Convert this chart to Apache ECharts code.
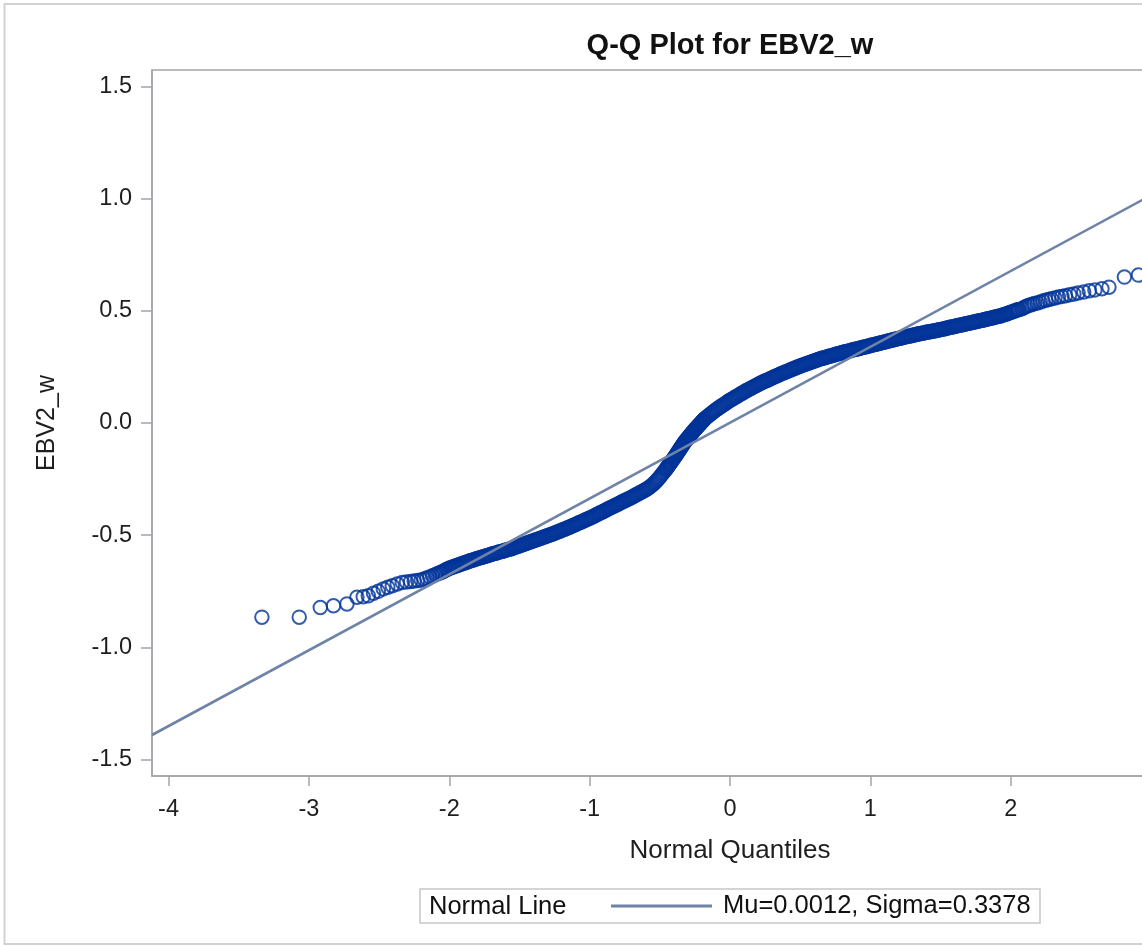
<!DOCTYPE html>
<html>
<head>
<meta charset="utf-8">
<title>Q-Q Plot for EBV2_w</title>
<script src="https://cdn.jsdelivr.net/npm/echarts@6/dist/echarts.min.js"></script>
<style>
  html, body { margin: 0; padding: 0; background: #ffffff; }
  #chart { width: 1142px; height: 946px; }
</style>
</head>
<body>
<div id="chart"></div>
<script>
// Normal-line parameters shown in the legend
const mu = 0.0012;
const sigma = 0.3378;

// Axis ticks
const xTicks = [-4, -3, -2, -1, 0, 1, 2, 3, 4];
const yTicks = [-1.5, -1.0, -0.5, 0.0, 0.5, 1.0, 1.5];

// Sorted EBV2_w observations against their normal quantiles: [quantile, value]
const leftTail = [
  [-3.335,-0.865],[-3.069,-0.865],[-2.919,-0.822],[-2.825,-0.814],[-2.729,-0.806],[-2.658,-0.776],
  [-2.613,-0.774],[-2.577,-0.770],[-2.540,-0.758],[-2.506,-0.750],[-2.470,-0.739],[-2.438,-0.732],
  [-2.406,-0.725],[-2.371,-0.717],[-2.335,-0.710],[-2.305,-0.708],[-2.275,-0.706],[-2.250,-0.704],
  [-2.225,-0.702],[-2.200,-0.699],[-2.180,-0.695],[-2.160,-0.691],[-2.140,-0.686],[-2.120,-0.681],
  [-2.100,-0.676],[-2.085,-0.672],[-2.070,-0.668]
];

const coreLower = [
  [-2.06,-0.666],[-2.05,-0.663],[-2.04,-0.660],[-2.03,-0.656],[-2.02,-0.653],[-2.01,-0.650],[-2.00,-0.647],
  [-1.99,-0.645],[-1.98,-0.643],[-1.97,-0.640],[-1.96,-0.638],[-1.95,-0.636],[-1.94,-0.634],[-1.93,-0.632],[-1.92,-0.629],[-1.91,-0.627],[-1.90,-0.625],
  [-1.89,-0.623],[-1.88,-0.621],[-1.87,-0.618],[-1.86,-0.616],[-1.85,-0.614],[-1.84,-0.612],[-1.83,-0.610],[-1.82,-0.608],[-1.81,-0.606],[-1.80,-0.604],
  [-1.79,-0.602],[-1.78,-0.600],[-1.77,-0.598],[-1.76,-0.597],[-1.75,-0.595],[-1.74,-0.593],[-1.73,-0.591],[-1.72,-0.589],[-1.71,-0.587],[-1.70,-0.585],
  [-1.69,-0.583],[-1.68,-0.581],[-1.67,-0.580],[-1.66,-0.578],[-1.65,-0.576],[-1.64,-0.574],[-1.63,-0.572],[-1.62,-0.571],[-1.61,-0.569],[-1.60,-0.567],
  [-1.59,-0.565],[-1.58,-0.563],[-1.57,-0.562],[-1.56,-0.560],[-1.55,-0.558],[-1.54,-0.556],[-1.53,-0.553],[-1.52,-0.551],[-1.51,-0.549],[-1.50,-0.547],
  [-1.49,-0.545],[-1.48,-0.542],[-1.47,-0.540],[-1.46,-0.538],[-1.45,-0.536],[-1.44,-0.534],[-1.43,-0.531],[-1.42,-0.529],[-1.41,-0.527],[-1.40,-0.525],
  [-1.39,-0.522],[-1.38,-0.520],[-1.37,-0.518],[-1.36,-0.516],[-1.35,-0.514],[-1.34,-0.511],[-1.33,-0.509],[-1.32,-0.507],[-1.31,-0.505],[-1.30,-0.502],
  [-1.29,-0.500],[-1.28,-0.498],[-1.27,-0.496],[-1.26,-0.493],[-1.25,-0.491],[-1.24,-0.488],[-1.23,-0.486],[-1.22,-0.483],[-1.21,-0.481],[-1.20,-0.478],
  [-1.19,-0.476],[-1.18,-0.473],[-1.17,-0.471],[-1.16,-0.468],[-1.15,-0.466],[-1.14,-0.463],[-1.13,-0.460],[-1.12,-0.457],[-1.11,-0.455],[-1.10,-0.452],
  [-1.09,-0.449],[-1.08,-0.446],[-1.07,-0.443],[-1.06,-0.441],[-1.05,-0.438],[-1.04,-0.435],[-1.03,-0.432],[-1.02,-0.429],[-1.01,-0.427],[-1.00,-0.424],
  [-0.99,-0.421],[-0.98,-0.418],[-0.97,-0.415],[-0.96,-0.412],[-0.95,-0.408],[-0.94,-0.405],[-0.93,-0.402],[-0.92,-0.399],[-0.91,-0.396],[-0.90,-0.393],
  [-0.89,-0.390],[-0.88,-0.386],[-0.87,-0.383],[-0.86,-0.380],[-0.85,-0.377],[-0.84,-0.374],[-0.83,-0.371],[-0.82,-0.368],[-0.81,-0.365],[-0.80,-0.362],
  [-0.79,-0.359],[-0.78,-0.355],[-0.77,-0.352],[-0.76,-0.349],[-0.75,-0.346],[-0.74,-0.343],[-0.73,-0.340],[-0.72,-0.337],[-0.71,-0.334],[-0.70,-0.331],
  [-0.69,-0.327],[-0.68,-0.324],[-0.67,-0.320],[-0.66,-0.317],[-0.65,-0.314],[-0.64,-0.310],[-0.63,-0.307],[-0.62,-0.304],[-0.61,-0.300],[-0.60,-0.297],
  [-0.59,-0.293],[-0.58,-0.289],[-0.57,-0.284],[-0.56,-0.279],[-0.55,-0.274],[-0.54,-0.268],[-0.53,-0.262],[-0.52,-0.255],[-0.51,-0.248],[-0.50,-0.241],
  [-0.49,-0.233],[-0.48,-0.225],[-0.47,-0.217],[-0.46,-0.209]
];

const coreSteep = [
  [-0.455,-0.205],[-0.45,-0.200],[-0.445,-0.196],[-0.44,-0.192],[-0.435,-0.187],[-0.43,-0.183],[-0.425,-0.178],[-0.42,-0.174],[-0.415,-0.170],[-0.41,-0.165],
  [-0.405,-0.161],[-0.40,-0.157],[-0.395,-0.152],[-0.39,-0.148],[-0.385,-0.143],[-0.38,-0.139],[-0.375,-0.134],[-0.37,-0.129],[-0.365,-0.124],[-0.36,-0.120],
  [-0.355,-0.115],[-0.35,-0.110],[-0.345,-0.105],[-0.34,-0.101],[-0.335,-0.096],[-0.33,-0.091],[-0.325,-0.087],[-0.32,-0.082],[-0.315,-0.078],[-0.31,-0.074],
  [-0.305,-0.071],[-0.30,-0.067],[-0.295,-0.063],[-0.29,-0.059],[-0.285,-0.055],[-0.28,-0.052],[-0.275,-0.048],[-0.27,-0.044],[-0.265,-0.040],[-0.26,-0.036],
  [-0.255,-0.033],[-0.25,-0.029],[-0.245,-0.026],[-0.24,-0.022],[-0.235,-0.019],[-0.23,-0.015],[-0.225,-0.012],[-0.22,-0.008],[-0.215,-0.005],[-0.21,-0.002],
  [-0.205,0.002],[-0.20,0.005],[-0.195,0.009],[-0.19,0.012],[-0.185,0.016],[-0.18,0.019]
];

const coreUpper = [
  [-0.17,0.024],[-0.16,0.029],[-0.15,0.034],[-0.14,0.039],[-0.13,0.044],[-0.12,0.049],[-0.11,0.054],[-0.10,0.059],
  [-0.09,0.063],[-0.08,0.067],[-0.07,0.072],[-0.06,0.076],[-0.05,0.080],[-0.04,0.084],[-0.03,0.088],[-0.02,0.093],[-0.01,0.097],[0.00,0.101],
  [0.01,0.105],[0.02,0.108],[0.03,0.112],[0.04,0.116],[0.05,0.119],[0.06,0.123],[0.07,0.127],[0.08,0.131],[0.09,0.134],[0.10,0.138],
  [0.11,0.142],[0.12,0.145],[0.13,0.148],[0.14,0.152],[0.15,0.155],[0.16,0.158],[0.17,0.162],[0.18,0.165],[0.19,0.168],[0.20,0.171],
  [0.21,0.175],[0.22,0.178],[0.23,0.181],[0.24,0.184],[0.25,0.187],[0.26,0.189],[0.27,0.192],[0.28,0.195],[0.29,0.198],[0.30,0.201],
  [0.31,0.204],[0.32,0.207],[0.33,0.209],[0.34,0.212],[0.35,0.215],[0.36,0.218],[0.37,0.221],[0.38,0.223],[0.39,0.226],[0.40,0.228],
  [0.41,0.231],[0.42,0.233],[0.43,0.236],[0.44,0.239],[0.45,0.241],[0.46,0.244],[0.47,0.246],[0.48,0.249],[0.49,0.251],[0.50,0.254],
  [0.51,0.256],[0.52,0.258],[0.53,0.261],[0.54,0.263],[0.55,0.265],[0.56,0.267],[0.57,0.269],[0.58,0.272],[0.59,0.274],[0.60,0.276],
  [0.61,0.278],[0.62,0.281],[0.63,0.283],[0.64,0.285],[0.65,0.287],[0.66,0.289],[0.67,0.290],[0.68,0.292],[0.69,0.294],[0.70,0.296],
  [0.71,0.298],[0.72,0.299],[0.73,0.301],[0.74,0.303],[0.75,0.305],[0.76,0.307],[0.77,0.308],[0.78,0.310],[0.79,0.312],[0.80,0.314],
  [0.81,0.315],[0.82,0.317],[0.83,0.318],[0.84,0.320],[0.85,0.321],[0.86,0.323],[0.87,0.325],[0.88,0.326],[0.89,0.328],[0.90,0.329],
  [0.91,0.331],[0.92,0.332],[0.93,0.334],[0.94,0.336],[0.95,0.337],[0.96,0.339],[0.97,0.340],[0.98,0.342],[0.99,0.343],[1.00,0.345],
  [1.01,0.347],[1.02,0.348],[1.03,0.350],[1.04,0.351],[1.05,0.353],[1.06,0.354],[1.07,0.356],[1.08,0.358],[1.09,0.359],[1.10,0.361],
  [1.11,0.362],[1.12,0.364],[1.13,0.365],[1.14,0.367],[1.15,0.369],[1.16,0.370],[1.17,0.372],[1.18,0.373],[1.19,0.375],[1.20,0.376],
  [1.21,0.378],[1.22,0.379],[1.23,0.381],[1.24,0.382],[1.25,0.384],[1.26,0.385],[1.27,0.386],[1.28,0.388],[1.29,0.389],[1.30,0.391],
  [1.31,0.392],[1.32,0.393],[1.33,0.395],[1.34,0.396],[1.35,0.398],[1.36,0.399],[1.37,0.400],[1.38,0.401],[1.39,0.403],[1.40,0.404],
  [1.41,0.405],[1.42,0.406],[1.43,0.407],[1.44,0.409],[1.45,0.410],[1.46,0.411],[1.47,0.412],[1.48,0.413],[1.49,0.415],[1.50,0.416],
  [1.51,0.417],[1.52,0.419],[1.53,0.420],[1.54,0.422],[1.55,0.423],[1.56,0.425],[1.57,0.426],[1.58,0.428],[1.59,0.429],[1.60,0.430],
  [1.61,0.432],[1.62,0.433],[1.63,0.435],[1.64,0.436],[1.65,0.437],[1.66,0.439],[1.67,0.440],[1.68,0.442],[1.69,0.443],[1.70,0.444],
  [1.71,0.446],[1.72,0.447],[1.73,0.449],[1.74,0.450],[1.75,0.451],[1.76,0.453],[1.77,0.454],[1.78,0.456],[1.79,0.457],[1.80,0.458],
  [1.81,0.460],[1.82,0.461],[1.83,0.463],[1.84,0.464],[1.85,0.466],[1.86,0.467],[1.87,0.469],[1.88,0.470],[1.89,0.472],[1.90,0.473],
  [1.91,0.475],[1.92,0.476],[1.93,0.478],[1.94,0.480],[1.95,0.482],[1.96,0.484],[1.97,0.486],[1.98,0.488],[1.99,0.491],[2.00,0.493],
  [2.01,0.495],[2.02,0.497],[2.03,0.500],[2.04,0.502],[2.05,0.504],[2.06,0.506]
];

const rightTail = [
  [2.08,0.509],[2.095,0.514],[2.11,0.519],[2.125,0.523],[2.14,0.526],[2.155,0.529],[2.17,0.532],[2.19,0.535],[2.21,0.539],[2.23,0.543],
  [2.25,0.547],[2.27,0.550],[2.29,0.553],[2.315,0.557],[2.34,0.561],[2.365,0.564],[2.39,0.567],[2.42,0.571],[2.45,0.575],[2.48,0.579],
  [2.52,0.584],[2.56,0.589],[2.60,0.593],[2.65,0.598],[2.70,0.605],[2.81,0.650],[2.91,0.659]
];

const observations = [].concat(leftTail, coreLower, coreSteep, coreUpper, rightTail);

// Axis extents
const xMin = -4.118, xMax = 4.118;
const yMin = -1.5725, yMax = 1.5725;

const FONT = "'Liberation Sans', Arial, Helvetica, sans-serif";
const AXIS_COLOR = '#a2a5a9';
const MARKER_COLOR = '#003399';
const LINE_COLOR = '#6e83a7';

const lineName = 'Mu=' + mu.toFixed(4) + ', Sigma=' + sigma.toFixed(4);
const normalLine = [
  [xMin, mu + sigma * xMin],
  [xMax, mu + sigma * xMax]
];

const chart = echarts.init(document.getElementById('chart'), null, { renderer: 'canvas' });

chart.setOption({
  animation: false,
  backgroundColor: '#ffffff',
  textStyle: { fontFamily: FONT },
  grid: {
    left: 152, top: 70, width: 1156, height: 706,
    outerBoundsMode: 'none', containLabel: false,
    show: true, borderColor: AXIS_COLOR, borderWidth: 1.5, backgroundColor: 'transparent'
  },
  xAxis: {
    type: 'value', min: xMin, max: xMax,
    name: 'Normal Quantiles', nameLocation: 'middle', nameGap: 62,
    nameTextStyle: { fontSize: 26, color: '#1e1e1e', fontFamily: FONT },
    axisLine: { show: true, onZero: false, lineStyle: { color: AXIS_COLOR, width: 1.5 } },
    axisTick: { show: true, length: 10, customValues: xTicks, lineStyle: { color: AXIS_COLOR, width: 1.5 } },
    axisLabel: { customValues: xTicks, margin: 22, fontSize: 23.5, color: '#1e1e1e', fontFamily: FONT },
    splitLine: { show: false }
  },
  yAxis: {
    type: 'value', min: yMin, max: yMax,
    name: 'EBV2_w', nameLocation: 'middle', nameGap: 92,
    nameTextStyle: { fontSize: 25, color: '#1e1e1e', fontFamily: FONT },
    axisLine: { show: true, onZero: false, lineStyle: { color: AXIS_COLOR, width: 1.5 } },
    axisTick: { show: true, length: 11, customValues: yTicks, lineStyle: { color: AXIS_COLOR, width: 1.5 } },
    axisLabel: {
      customValues: yTicks, margin: 20, fontSize: 23.5, color: '#1e1e1e', fontFamily: FONT,
      formatter: v => Number(v).toFixed(1)
    },
    splitLine: { show: false }
  },
  legend: {
    data: [{ name: lineName, icon: 'rect' }],
    left: 611, top: 893, padding: 0,
    itemWidth: 101, itemHeight: 3,
    selectedMode: false,
    itemStyle: { color: LINE_COLOR },
    textStyle: { fontSize: 25.5, color: '#111111', fontFamily: FONT, padding: [0, 0, 0, 6] }
  },
  graphic: [
    {
      type: 'rect', silent: true, z: -10,
      shape: { x: 4.5, y: 4, width: 1300, height: 940 },
      style: { fill: 'none', stroke: '#d2d2d2', lineWidth: 2 }
    },
    {
      type: 'text', silent: true,
      x: 730, y: 31,
      style: {
        text: 'Q-Q Plot for EBV2_w', fill: '#111111',
        font: 'bold 29px ' + FONT, textAlign: 'center', textVerticalAlign: 'top'
      }
    },
    {
      type: 'rect', silent: true,
      shape: { x: 420, y: 889, width: 620, height: 34 },
      style: { fill: 'none', stroke: '#c6c6c6', lineWidth: 1.5 }
    },
    {
      type: 'text', silent: true,
      x: 429, y: 907,
      style: {
        text: 'Normal Line', fill: '#111111',
        font: '25.5px ' + FONT, textAlign: 'left', textVerticalAlign: 'middle'
      }
    }
  ],
  series: [
    {
      name: 'EBV2_w',
      type: 'scatter',
      data: observations,
      symbol: 'circle',
      symbolSize: 13.5,
      itemStyle: { color: 'rgba(0,0,0,0)', borderColor: MARKER_COLOR, borderWidth: 2 },
      emphasis: { disabled: true },
      z: 2
    },
    {
      name: lineName,
      type: 'line',
      data: normalLine,
      showSymbol: false,
      symbol: 'none',
      lineStyle: { color: LINE_COLOR, width: 2.6 },
      itemStyle: { color: LINE_COLOR },
      emphasis: { disabled: true },
      z: 3
    }
  ]
});
</script>
</body>
</html>
